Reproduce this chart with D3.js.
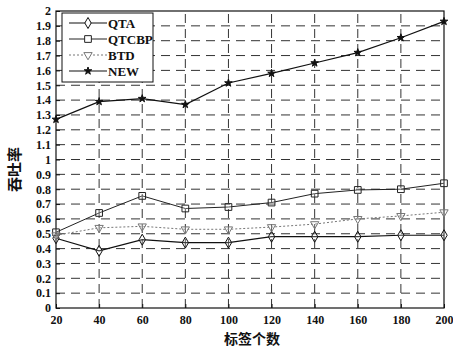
<!DOCTYPE html>
<html>
<head>
<meta charset="utf-8">
<script src="https://cdn.jsdelivr.net/npm/d3@7"></script>
<style>
  body { margin: 0; background: #fff; }
  text { font-family: "Liberation Serif", "DejaVu Serif", serif; font-weight: bold; fill: #111; }
  .cjk { font-family: "Noto Sans CJK SC", sans-serif; font-weight: bold; }
</style>
</head>
<body>
<div id="chart"></div>
<script>
// tag counts
const tagCounts = [20, 40, 60, 80, 100, 120, 140, 160, 180, 200];
const qta    = [0.47, 0.385, 0.46, 0.44, 0.44, 0.48, 0.48, 0.48, 0.49, 0.49];
const qtcbp  = [0.51, 0.64, 0.755, 0.67, 0.68, 0.71, 0.77, 0.795, 0.80, 0.84];
const btd    = [0.49, 0.54, 0.55, 0.53, 0.53, 0.545, 0.565, 0.60, 0.62, 0.645];
const newAlg = [1.27, 1.39, 1.41, 1.37, 1.515, 1.58, 1.65, 1.72, 1.82, 1.93];
const yTicks = d3.range(0, 21).map(i => i / 10);
const seriesNames = ["QTA", "QTCBP", "BTD", "NEW"];

const W = 453, H = 351;
const margin = { left: 56, right: 9, top: 11, bottom: 43 };

const svg = d3.select("#chart").append("svg")
    .attr("width", W).attr("height", H);

const x = d3.scaleLinear().domain([20, 200]).range([margin.left, W - margin.right]);
const y = d3.scaleLinear().domain([0, 2]).range([H - margin.bottom, margin.top]);

// grid
svg.append("g")
    .selectAll("line")
    .data(yTicks.slice(1, -1))
    .join("line")
    .attr("x1", x(20)).attr("x2", x(200))
    .attr("y1", d => y(d)).attr("y2", d => y(d))
    .attr("stroke", "#333").attr("stroke-width", 1)
    .attr("stroke-dasharray", "9,6");

svg.append("g")
    .selectAll("line")
    .data(tagCounts.slice(1, -1))
    .join("line")
    .attr("x1", d => x(d)).attr("x2", d => x(d))
    .attr("y1", y(0)).attr("y2", y(2))
    .attr("stroke", "#333").attr("stroke-width", 1)
    .attr("stroke-dasharray", "9,6");

// axes
const xAxis = svg.append("g")
    .attr("transform", `translate(0,${y(0)})`)
    .call(d3.axisBottom(x).tickValues(tagCounts).tickSize(-4).tickPadding(7));
const yAxis = svg.append("g")
    .attr("transform", `translate(${x(20)},0)`)
    .call(d3.axisLeft(y).tickValues(yTicks).tickSize(-4).tickPadding(5)
        .tickFormat(d => d3.format("")(+d.toFixed(1))));
[xAxis, yAxis].forEach(g => {
    g.select(".domain").remove();
    g.selectAll("line").attr("stroke", "#111");
    g.selectAll("text").style("font-size", "12px").attr("fill", "#111");
});

// box
svg.append("rect")
    .attr("x", x(20)).attr("y", y(2))
    .attr("width", x(200) - x(20)).attr("height", y(0) - y(2))
    .attr("fill", "none").attr("stroke", "#111").attr("stroke-width", 1.2);

// series
const series = [
    { name: "QTA", values: qta, sym: d3.symbolDiamond, dash: null, color: "#111", width: 1.2, size: 35 },
    { name: "QTCBP", values: qtcbp, sym: d3.symbolSquare, dash: null, color: "#222", width: 1, size: 45 },
    { name: "BTD", values: btd, sym: d3.symbolTriangle, dash: "2,2", color: "#777", width: 1, size: 30, rot: 180 },
    { name: "NEW", values: newAlg, sym: d3.symbolStar, dash: null, color: "#111", width: 1.2, size: 18, fill: true }
];

const line = d3.line().x(d => x(d[0])).y(d => y(d[1]));

series.forEach(s => {
    const pts = tagCounts.map((t, i) => [t, s.values[i]]);
    svg.append("path")
        .datum(pts)
        .attr("d", line)
        .attr("fill", "none")
        .attr("stroke", s.color)
        .attr("stroke-width", s.width)
        .attr("stroke-dasharray", s.dash);
    svg.append("g")
        .selectAll("path")
        .data(pts)
        .join("path")
        .attr("d", d3.symbol().type(s.sym).size(s.size))
        .attr("transform", d => `translate(${x(d[0])},${y(d[1])}) rotate(${s.rot || 0})`)
        .attr("fill", s.fill ? s.color : "#fff")
        .attr("fill-opacity", s.fill ? 1 : 0.2)
        .attr("stroke", s.color)
        .attr("stroke-width", 1);
});

// legend
const lg = svg.append("g").attr("transform", "translate(62,13)");
lg.append("rect")
    .attr("width", 91).attr("height", 69)
    .attr("fill", "#fff").attr("stroke", "#111").attr("stroke-width", 1);
series.forEach((s, i) => {
    const row = lg.append("g").attr("transform", `translate(0,${10 + i * 16})`);
    row.append("line")
        .attr("x1", 7).attr("x2", 45)
        .attr("stroke", s.color).attr("stroke-width", s.width)
        .attr("stroke-dasharray", s.dash);
    row.append("path")
        .attr("d", d3.symbol().type(s.sym).size(s.size))
        .attr("transform", `translate(26,0) rotate(${s.rot || 0})`)
        .attr("fill", s.fill ? s.color : "#fff")
        .attr("stroke", s.color).attr("stroke-width", 1);
    row.append("text")
        .attr("x", 46).attr("y", 4.5)
        .style("font-size", "13px")
        .text(seriesNames[i]);
});

// axis titles
svg.append("text")
    .attr("class", "cjk")
    .attr("x", (x(20) + x(200)) / 2 + 2).attr("y", 344)
    .attr("text-anchor", "middle")
    .style("font-size", "14px")
    .text("标签个数");

svg.append("text")
    .attr("class", "cjk")
    .attr("transform", `translate(20,${y(1) + 10}) rotate(-90)`)
    .attr("text-anchor", "middle")
    .style("font-size", "15px")
    .text("吞吐率");
</script>
</body>
</html>
